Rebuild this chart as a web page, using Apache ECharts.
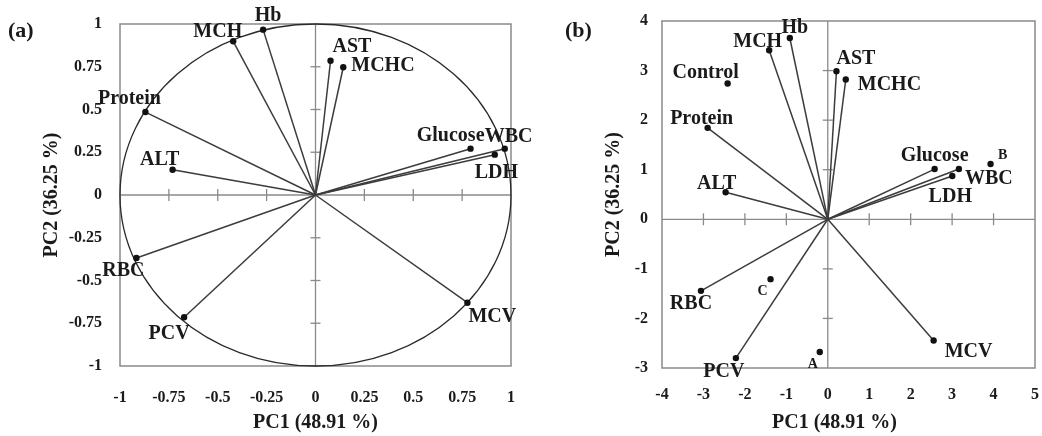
<!DOCTYPE html>
<html><head><meta charset="utf-8">
<script src="https://cdn.jsdelivr.net/npm/echarts@6/dist/echarts.min.js"></script>
<style>html,body{margin:0;padding:0;background:#fff}#c{width:1042px;height:436px}</style>
</head><body><div id="c"></div>
<script>
// ---- data ----
const varNames = ['Hb','MCH','AST','MCHC','Protein','ALT','Glucose','WBC','LDH','RBC','PCV','MCV'];
const loadA_PC1 = [-0.268,-0.421,0.077,0.142,-0.870,-0.731,0.793,0.968,0.917,-0.916,-0.672,0.777];
const loadA_PC2 = [0.967,0.899,0.785,0.747,0.485,0.148,0.271,0.271,0.236,-0.368,-0.715,-0.630];
const loadB_PC1 = [-0.916,-1.414,0.209,0.434,-2.899,-2.465,2.578,3.164,3.004,-3.06,-2.217,2.554];
const loadB_PC2 = [3.657,3.409,2.986,2.819,1.845,0.544,1.013,1.013,0.872,-1.444,-2.80,-2.445];
const groupNames = ['Control','A','B','C'];
const scoreB_PC1 = [-2.417,-0.193,3.928,-1.381];
const scoreB_PC2 = [2.739,-2.678,1.114,-1.208];
const ticksA = [-1,-0.75,-0.5,-0.25,0,0.25,0.5,0.75,1];
const ticksBx = [-4,-3,-2,-1,0,1,2,3,4,5];
const ticksBy = [-3,-2,-1,0,1,2,3,4];
const xTitle = 'PC1 (48.91 %)';
const yTitle = 'PC2 (36.25 %)';

// ---- label placement (pixel offsets, align, font size) ----
const placeA = [[5,-14,'center',20],[9,-9,'right',20],[2,-14,'left',20],[8,-1,'left',20],[-16,-13,'center',20],[-13,-10,'center',20],
  [14,-13,'right',20],[-20,-12,'left',20],[-20,18,'left',20],[-13,13,'center',20],[-15,17,'center',20],[1,14,'left',20]];
const placeB = [[5,-10,'center',20],[13,-8,'right',20],[0,-12,'left',20],[12,5,'left',20],[-6,-9,'center',20],[-9,-8,'center',20],
  [0,-13,'center',20],[6,10,'left',20],[-2,21,'center',20],[-10,13,'center',20],[-12,14,'center',20],[11,11,'left',20]];
const placeS = [[-22,-11,'center',20],[-7,12,'center',14],[12,-9,'center',14],[-8,12,'center',14]];

const SERIF = '"Liberation Serif","Times New Roman",serif';
const GREY = '#8a8a8a';

function axesSeries(xi, yi, xt, yt) {
  const xmin = xt[0], xmax = xt[xt.length-1], ymin = yt[0], ymax = yt[yt.length-1];
  return {
    type:'custom', xAxisIndex:xi, yAxisIndex:yi, silent:true, clip:false, z:1,
    data:[[0,0]],
    renderItem(params, api){
      const l = api.coord([xmin,0]), r = api.coord([xmax,0]);
      const b = api.coord([0,ymin]), t = api.coord([0,ymax]);
      const st = {stroke:GREY, lineWidth:1.3};
      const ch = [
        {type:'line', shape:{x1:l[0],y1:l[1],x2:r[0],y2:r[1]}, style:st},
        {type:'line', shape:{x1:b[0],y1:b[1],x2:t[0],y2:t[1]}, style:st}
      ];
      xt.forEach(v => { if (v===0||v===xmin||v===xmax) return; const p = api.coord([v,0]);
        ch.push({type:'line', shape:{x1:p[0],y1:p[1]-6,x2:p[0],y2:p[1]+6}, style:st}); });
      yt.forEach(v => { if (v===0||v===ymin||v===ymax) return; const p = api.coord([0,v]);
        ch.push({type:'line', shape:{x1:p[0]-5,y1:p[1],x2:p[0]+5,y2:p[1]}, style:st}); });
      return {type:'group', children:ch};
    }
  };
}

function circleSeries(xi, yi) {
  return {
    type:'custom', xAxisIndex:xi, yAxisIndex:yi, silent:true, clip:false, z:2,
    data:[[0,0]],
    renderItem(params, api){
      const c = api.coord([0,0]), px = api.coord([1,0]), py = api.coord([0,1]);
      return {type:'ellipse', shape:{cx:c[0], cy:c[1], rx:px[0]-c[0], ry:c[1]-py[1]},
        style:{fill:'none', stroke:'#2a2a2a', lineWidth:1.3}};
    }
  };
}

function vecSeries(xi, yi, pc1, pc2, names, place, withLine, clipW) {
  return {
    type:'custom', xAxisIndex:xi, yAxisIndex:yi, silent:true, clip:false, z:3,
    data: pc1.map((v,i)=>[v, pc2[i], i]),
    renderItem(params, api){
      const i = api.value(2);
      const p = api.coord([api.value(0), api.value(1)]);
      const o = api.coord([0,0]);
      const pl = place[i];
      const ch = [];
      if (withLine) ch.push({type:'line', shape:{x1:o[0],y1:o[1],x2:p[0],y2:p[1]}, style:{stroke:'#3c3c3c', lineWidth:1.5}});
      ch.push({type:'circle', shape:{cx:p[0],cy:p[1],r:3.2}, style:{fill:'#111'}});
      const t = {type:'text', style:{x:p[0]+pl[0], y:p[1]+pl[1], text:names[i], align:pl[2], verticalAlign:'middle',
        fill:'#1a1a1a', font:'bold '+pl[3]+'px '+SERIF}};
      if (clipW) t.clipPath = {type:'rect', shape:{x:0, y:0, width:clipW, height:436}};
      ch.push(t);
      return {type:'group', children:ch};
    }
  };
}

function xAxisCfg(idx, ticks, margin, gap, pad) {
  return {gridIndex:idx, type:'value', min:ticks[0], max:ticks[ticks.length-1], interval:ticks[1]-ticks[0],
    axisLine:{show:false, onZero:false}, axisTick:{show:false}, splitLine:{show:false},
    axisLabel:{margin:margin, color:'#1a1a1a', fontFamily:SERIF, fontWeight:'bold', fontSize:16, interval:0, showMinLabel:true, showMaxLabel:true},
    name:xTitle, nameLocation:'middle', nameGap:gap,
    nameTextStyle:{color:'#1a1a1a', fontFamily:SERIF, fontWeight:'bold', fontSize:20, padding:pad}};
}
function yAxisCfg(idx, ticks, margin, gap) {
  return {gridIndex:idx, type:'value', min:ticks[0], max:ticks[ticks.length-1], interval:ticks[1]-ticks[0],
    axisLine:{show:false, onZero:false}, axisTick:{show:false}, splitLine:{show:false},
    axisLabel:{margin:margin, color:'#1a1a1a', fontFamily:SERIF, fontWeight:'bold', fontSize:16, interval:0, showMinLabel:true, showMaxLabel:true},
    name:yTitle, nameLocation:'middle', nameGap:gap,
    nameTextStyle:{color:'#1a1a1a', fontFamily:SERIF, fontWeight:'bold', fontSize:20}};
}

const chart = echarts.init(document.getElementById('c'), null, {renderer:'canvas'});
chart.setOption({
  animation:false,
  backgroundColor:'#fff',
  grid:[
    {left:120, top:24, width:391, height:342, show:true, borderColor:GREY, borderWidth:1.5, backgroundColor:'transparent', containLabel:false, outerBoundsMode:'none'},
    {left:662, top:21, width:373, height:347, show:true, borderColor:GREY, borderWidth:1.5, backgroundColor:'transparent', containLabel:false, outerBoundsMode:'none'}
  ],
  xAxis:[ xAxisCfg(0, ticksA, 24, 47, [0,0,0,0]), xAxisCfg(1, ticksBx, 19, 45, [0,28,0,0]) ],
  yAxis:[ yAxisCfg(0, ticksA, 18, 58), yAxisCfg(1, ticksBy, 14, 38) ],
  graphic:[
    {type:'text', left:8, top:20, style:{text:'(a)', font:'bold 22px '+SERIF, fill:'#1a1a1a'}},
    {type:'text', left:565, top:20, style:{text:'(b)', font:'bold 22px '+SERIF, fill:'#1a1a1a'}}
  ],
  series:[
    axesSeries(0, 0, ticksA, ticksA),
    circleSeries(0, 0),
    vecSeries(0, 0, loadA_PC1, loadA_PC2, varNames, placeA, true, 534),
    axesSeries(1, 1, ticksBx, ticksBy),
    vecSeries(1, 1, loadB_PC1, loadB_PC2, varNames, placeB, true, 0),
    vecSeries(1, 1, scoreB_PC1, scoreB_PC2, groupNames, placeS, false, 0)
  ]
});
</script>
</body></html>
